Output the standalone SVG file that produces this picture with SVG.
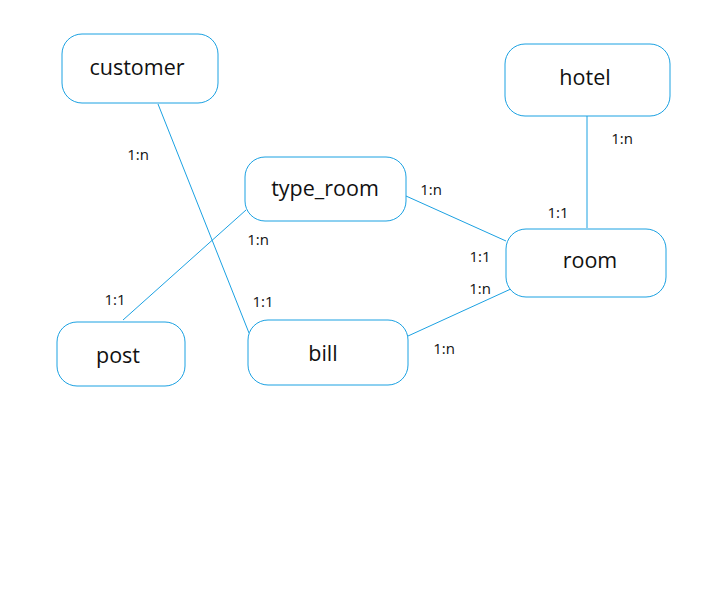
<svg xmlns="http://www.w3.org/2000/svg" width="710" height="599" viewBox="0 0 710 599">
<style>
.n{fill:#fff;stroke:#1BA1E2;stroke-width:1}
.t{font-family:"Open Sans","Noto Sans",sans-serif;font-size:21.5px;fill:#111;text-anchor:middle;dominant-baseline:central}
.l{font-family:"Open Sans","Noto Sans",sans-serif;font-size:15px;fill:#111;text-anchor:middle;dominant-baseline:central}
.c{stroke:#1BA1E2;stroke-width:1;fill:none}
</style>
<rect width="710" height="599" fill="#fff"/>
<g id="connectors">
<line class="c" x1="158" y1="104" x2="249" y2="333"/>
<line class="c" x1="246" y1="210" x2="123" y2="320"/>
<line class="c" x1="406" y1="196" x2="506" y2="241"/>
<line class="c" x1="408" y1="336" x2="513" y2="288"/>
<line class="c" x1="587" y1="116" x2="587" y2="228"/>
</g>
<g id="customer"><rect class="n" x="62" y="34" width="156" height="69" rx="20"/><text class="t" x="137" y="66">customer</text></g>
<g id="hotel"><rect class="n" x="505" y="44" width="165" height="72" rx="20"/><text class="t" x="585" y="76">hotel</text></g>
<g id="type_room"><rect class="n" x="245" y="157" width="161" height="64" rx="20"/><text class="t" x="325" y="187">type_room</text></g>
<g id="room"><rect class="n" x="506" y="229" width="160" height="68" rx="20"/><text class="t" x="590" y="259">room</text></g>
<g id="post"><rect class="n" x="57" y="322" width="128" height="64" rx="20"/><text class="t" x="118" y="354">post</text></g>
<g id="bill"><rect class="n" x="248" y="320" width="160" height="65" rx="20"/><text class="t" x="323" y="352">bill</text></g>
<g id="labels">
<text class="l" x="138" y="154">1:n</text>
<text class="l" x="258" y="239">1:n</text>
<text class="l" x="115" y="299">1:1</text>
<text class="l" x="263" y="301">1:1</text>
<text class="l" x="431" y="189">1:n</text>
<text class="l" x="480" y="256">1:1</text>
<text class="l" x="480" y="288">1:n</text>
<text class="l" x="444" y="348">1:n</text>
<text class="l" x="622" y="138">1:n</text>
<text class="l" x="558" y="212">1:1</text>
</g>
</svg>
